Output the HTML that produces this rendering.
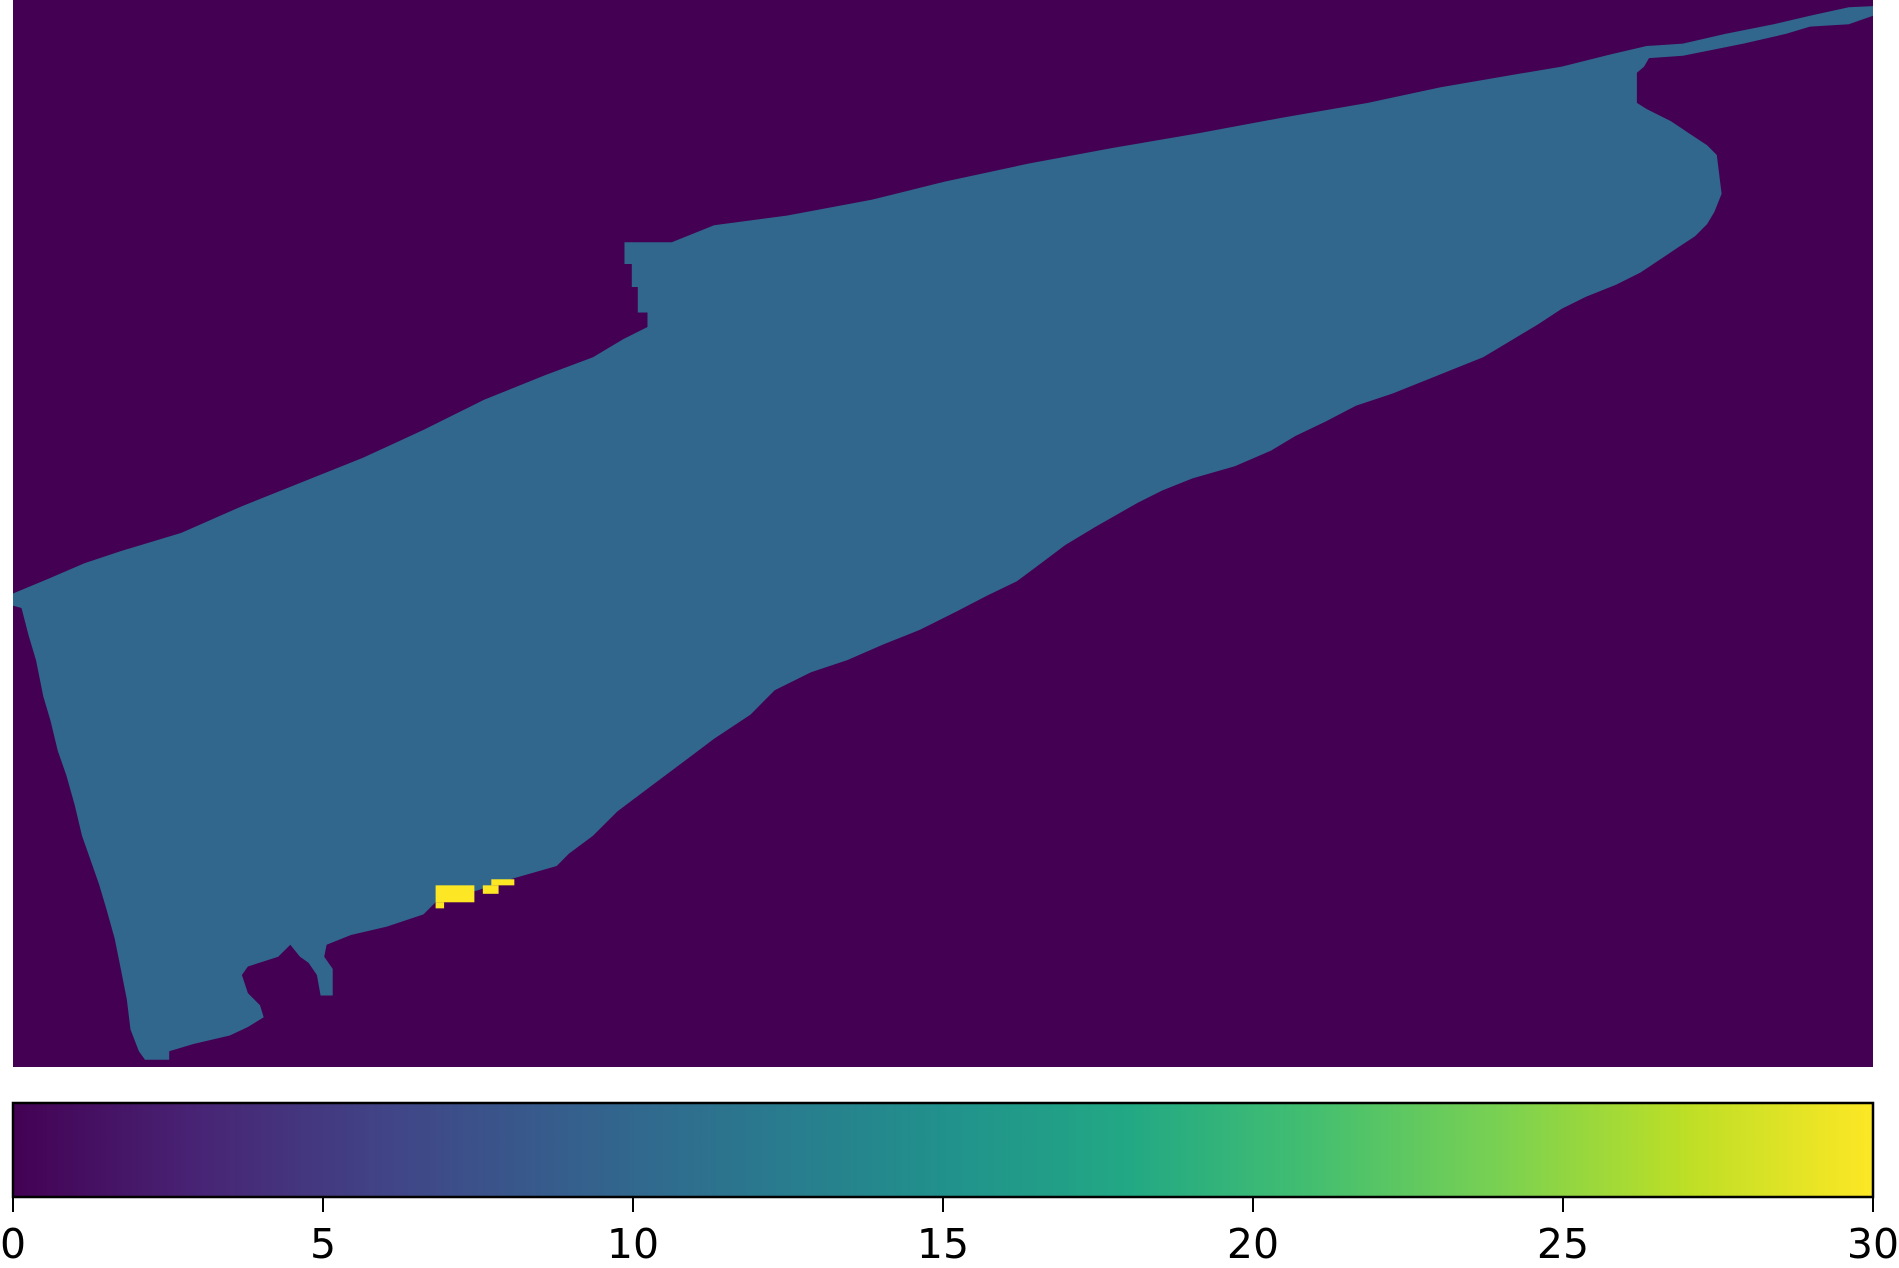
<!DOCTYPE html>
<html><head><meta charset="utf-8"><style>
html,body{margin:0;padding:0;background:#fff;}
svg{display:block;}
text{font-family:"DejaVu Sans","Liberation Sans",sans-serif;}
</style></head>
<body>
<svg id="chart" width="1899" height="1268" viewBox="0 0 1899 1268" xmlns="http://www.w3.org/2000/svg">
<defs>
<linearGradient id="viridis" x1="0" x2="1" y1="0" y2="0">
<stop offset="0" stop-color="#440154"/><stop offset="0.1" stop-color="#482475"/><stop offset="0.2" stop-color="#414487"/><stop offset="0.3" stop-color="#355f8d"/><stop offset="0.4" stop-color="#2a788e"/><stop offset="0.5" stop-color="#21918c"/><stop offset="0.6" stop-color="#22a884"/><stop offset="0.7" stop-color="#44bf70"/><stop offset="0.8" stop-color="#7ad151"/><stop offset="0.9" stop-color="#bddf26"/><stop offset="1" stop-color="#fde725"/>
</linearGradient>
</defs>
<g id="map"></g>
<g id="cbar"></g>
</svg>
<script>
// region outline (map units: x 11..1547, y 0..881) with value
const regionValue = 10;
const regionX = [11,40,70,100,150,200,250,300,350,400,450,490,515,535,535,527,527,522,522,516,516,555,590,650,720,780,850,920,990,1060,1130,1190,1260,1290,1330,1360,1390,1425,1465,1495,1527,1547,1547,1527,1495,1475,1440,1390,1362,1358,1352,1352,1360,1380,1395,1410,1418,1422,1416,1410,1400,1385,1370,1355,1335,1310,1290,1270,1250,1225,1200,1180,1150,1120,1095,1070,1050,1020,985,960,940,905,880,860,840,815,790,760,730,700,670,640,620,590,570,550,530,510,490,470,460,425,395,360,350,320,290,270,268,275,275,265,262,255,248,240,230,205,200,205,215,218,205,190,160,140,140,120,115,108,105,100,95,88,82,75,68,62,55,48,42,36,30,24,18,11];
const regionY = [490,478,465,455,440,418,398,378,355,330,310,295,280,270,258,258,237,237,218,218,200,200,186,178,165,150,135,122,110,97,85,72,60,55,45,38,36,28,20,13,6,5,13,20,22,28,36,46,48,55,60,85,90,100,110,120,128,160,175,185,195,205,215,225,235,245,255,268,280,295,305,313,325,335,348,360,372,385,395,405,415,435,450,465,480,492,505,520,532,545,555,570,590,610,625,640,655,670,690,705,715,725,735,745,755,765,772,780,790,800,822,822,805,795,790,780,790,798,805,820,830,840,848,855,862,868,875,875,868,850,825,800,775,750,730,710,690,665,640,620,595,575,545,525,502,500];
// high-value cells (x0,y0,x1,y1 in map units)
const hotValue = 30;
const hotX0 = [360,360,399,406];
const hotY0 = [731,745,731,726];
const hotX1 = [392,367,412,425];
const hotY1 = [745,750,738,731];
const cbTicks = [0,5,10,15,20,25,30];
const cbLabels = ["0","5","10","15","20","25","30"];

const NS="http://www.w3.org/2000/svg";
const L=13,R=1873,T=0,B=1067;
const sx=v=>L+(v-11)/(1547-11)*(R-L);
const sy=v=>T+v/881*(B-T);
const vmin=0,vmax=30;
const stops=[[0,[68,1,84]],[0.1,[72,36,117]],[0.2,[65,68,135]],[0.3,[53,95,141]],[0.4,[42,120,142]],[0.5,[33,145,140]],[0.6,[34,168,132]],[0.7,[68,191,112]],[0.8,[122,209,81]],[0.9,[189,223,38]],[1,[253,231,37]]];
function cmap(v){let t=(v-vmin)/(vmax-vmin);t=Math.max(0,Math.min(1,t));
for(let i=1;i<stops.length;i++){if(t<=stops[i][0]){const a=stops[i-1],b=stops[i];const f=(t-a[0])/(b[0]-a[0]);
const c=a[1].map((x,k)=>Math.round(x+(b[1][k]-x)*f));return `rgb(${c})`;}}return 'rgb(253,231,37)';}
function mk(tag,attrs,parent){const e=document.createElementNS(NS,tag);for(const k in attrs)e.setAttribute(k,attrs[k]);parent.appendChild(e);return e;}
const map=document.getElementById('map');
const bg=mk('rect',{x:L,y:T,width:R-L,height:B-T,fill:cmap(0)},map);


const pts=regionX.map((x,i)=>sx(x).toFixed(1)+','+sy(regionY[i]).toFixed(1)).join(' ');
const poly=mk('polygon',{points:pts,fill:cmap(regionValue)},map);


for(let i=0;i<hotX0.length;i++){
 const r=mk('rect',{x:sx(hotX0[i]),y:sy(hotY0[i]),width:sx(hotX1[i])-sx(hotX0[i]),height:sy(hotY1[i])-sy(hotY0[i]),fill:cmap(hotValue)},map);
 
 
}
const cb=document.getElementById('cbar');
const CT=1103,CB=1197;
const cx=v=>L+(v-vmin)/(vmax-vmin)*(R-L);
const grad=mk('rect',{x:L,y:CT,width:R-L,height:CB-CT,fill:'url(#viridis)',stroke:'#000','stroke-width':2.5},cb);


cbTicks.forEach((t,i)=>{
 const ln=mk('line',{x1:cx(t),x2:cx(t),y1:CB,y2:CB+15,stroke:'#000','stroke-width':2},cb);
 
 
 const tx=mk('text',{x:cx(t),y:1258,'font-size':41,'text-anchor':'middle',fill:'#000'},cb);
 tx.textContent=cbLabels[i];
 
 
});
</script>
</body></html>
